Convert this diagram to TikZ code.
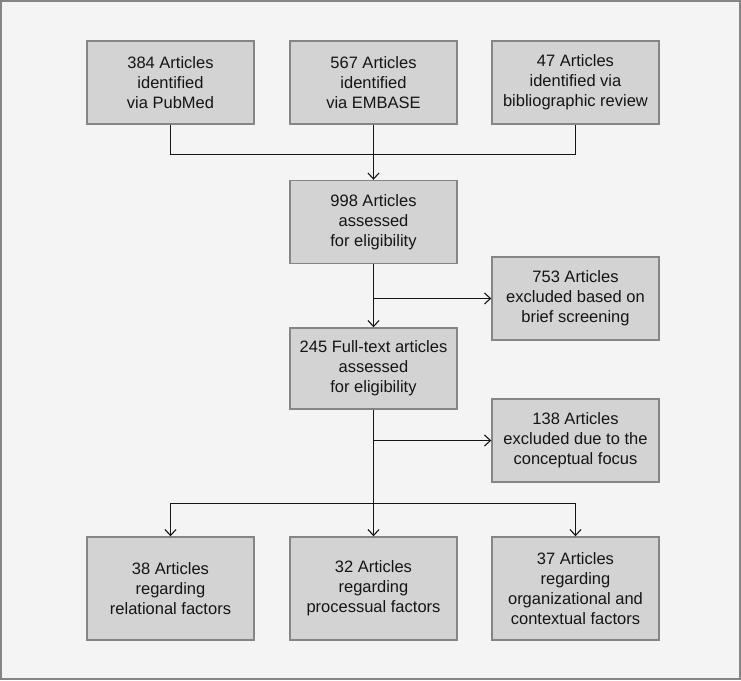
\documentclass[tikz,border=0pt]{standalone}
\usepackage{fontspec}
\setmainfont{Liberation Sans}
\usepackage{tikz}
\usetikzlibrary{arrows.meta, positioning, calc}
\definecolor{pagebg}{HTML}{F4F4F4}
\definecolor{boxfill}{HTML}{D3D3D3}
\definecolor{boxline}{HTML}{858585}
\definecolor{inkline}{HTML}{151515}
\tikzstyle{stage}      = [rectangle, draw=boxline, fill=boxfill, line width=1.4pt,
                          minimum width=167pt, minimum height=83pt, align=center,
                          inner sep=0pt, text=inkline,
                          font=\fontsize{16.5}{20}\selectfont]
\tikzstyle{arrow}      = [line width=1.1pt, draw=inkline, -{Straight Barb[length=6pt,width=11pt]}]
\tikzstyle{link}       = [line width=1.1pt, draw=inkline]

\begin{document}
\begin{tikzpicture}[x=1pt, y=-1pt]

  % --- Frame ---
  \useasboundingbox (0,0) rectangle (741,680);
  \draw[draw=boxline, fill=pagebg, line width=1.4pt] (1,1) rectangle (740,679);

  % --- Sources ---
  \node[stage] (pubmed) at (170.5, 82.5) {384 Articles\\identified\\via PubMed};
  \node[stage] (embase) at (373.5, 82.5) {567 Articles\\identified\\via EMBASE};
  \node[stage] (biblio) at (575.5, 82.5) {47 Articles\\identified via\\bibliographic review};

  % --- Screening ---
  \node[stage] (screen) at (373.5, 222.0) {998 Articles\\assessed\\for eligibility};
  \node[stage] (excl1)  at (575.5, 298.5) {753 Articles\\excluded based on\\brief screening};
  \node[stage, minimum height=81pt] (full) at (373.5, 368.5) {245 Full-text articles\\assessed\\for eligibility};
  \node[stage] (excl2)  at (575.5, 440.5) {138 Articles\\excluded due to the\\conceptual focus};

  % --- Included ---
  \node[stage, minimum height=103pt] (relat) at (170.5, 588.5) {38 Articles\\regarding\\relational factors};
  \node[stage, minimum height=103pt] (proc)  at (373.5, 588.5) {32 Articles\\regarding\\processual factors};
  \node[stage, minimum height=103pt] (orga)  at (575.5, 588.5) {37 Articles\\regarding\\organizational and\\contextual factors};

  % Junctions
  \coordinate (top) at (373.5, 154.5);
  \coordinate (split) at (373.5, 503.5);
  \coordinate (cut1) at (screen.south |- excl1.west);
  \coordinate (cut2) at (full.south |- excl2.west);

  % Connections
  \draw[link] (pubmed.south) |- (top) -| (biblio.south);
  \draw[arrow] (embase.south) -- (screen.north);
  \draw[arrow] (screen.south) -- (full.north);
  \draw[arrow] (cut1) -- (excl1.west);
  \draw[link] (full.south) -- (split);
  \draw[arrow] (cut2) -- (excl2.west);
  \foreach \x in {relat,orga} \draw[arrow] (split) -| (\x.north);
  \draw[arrow] (split) -- (proc.north);
\end{tikzpicture}
\end{document}
